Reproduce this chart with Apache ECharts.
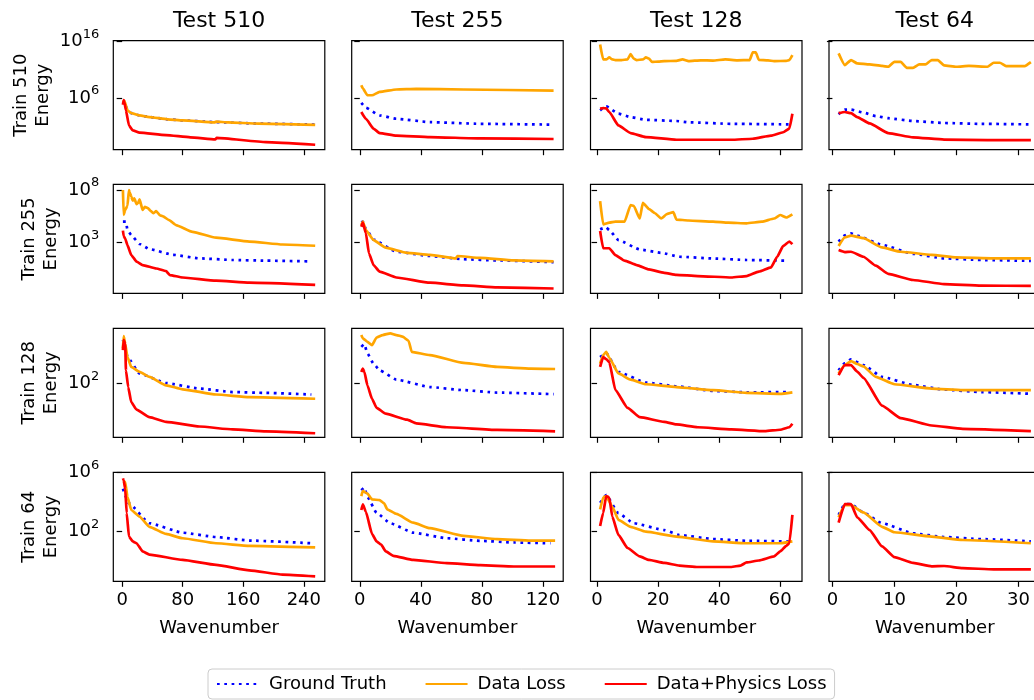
<!DOCTYPE html>
<html>
<head>
<meta charset="utf-8">
<script src="https://cdn.jsdelivr.net/npm/echarts@6/dist/echarts.min.js"></script>
<style>
html,body{margin:0;padding:0;background:#fff;}
#chart{width:1034px;height:700px;}
</style>
</head>
<body>
<div id="chart"></div>
<script>
// Energy spectra: rows = training resolution, columns = test resolution
const trainSizes = [510, 255, 128, 64];
const testSizes = [510, 255, 128, 64];
const seriesNames = ['Ground Truth', 'Data Loss', 'Data+Physics Loss'];

// x tick labels per column and y tick exponents per row
const xTickValues = [[0, 80, 160, 240], [0, 40, 80, 120], [0, 20, 40, 60], [0, 10, 20, 30]];
const xLimits = [[-11.7, 267.7], [-5.3, 133.3], [-2.15, 67.15], [-0.55, 33.55]];
const yTickExponents = [[6, 16], [3, 8], [2], [2, 6]];
const yLimitExponents = [[-3.2, 16.18], [-1.81, 8.54], [-2.05, 6.17], [-1.42, 6.02]];

// ---- Train 510 ----
const gt_510_510 = [[1,1e5],[3,2e5],[7,6.3e3],[12,2e3],[23,8e2],[36,4e2],[60,1.6e2],[80,1e2],[124,5e1],[180,2.8e1],[255,1.8e1]];
const dl_510_510 = [[1,2e5],[3,3.2e5],[7,6.3e3],[12,2e3],[23,8e2],[36,4e2],[60,1.6e2],[80,1e2],[122,4.5e1],[124,6.3e1],[140,4.5e1],[180,2.8e1],[255,1.6e1]];
const dp_510_510 = [[1,6.3e4],[2,4e5],[3,1.6e5],[5,6.3e3],[9,1.3e1],[14,1.7],[23,6.6e-1],[58,2.5e-1],[90,1e-1],[123,4.2e-2],[125,8e-2],[190,1.4e-2],[255,4.8e-3]];

const gt_510_255 = [[1,1.3e5],[4,1.9e4],[13,8e2],[24,2e2],[46,5e1],[79,2.5e1],[127,1.8e1]];
const dl_510_255 = [[1,1.9e8],[2,5e7],[5,3e6],[8,3e6],[13,1.2e7],[24,3.2e7],[37,4e7],[68,3.2e7],[127,2e7]];
const dp_510_255 = [[1,3.2e3],[4,2e2],[9,3.5],[13,5.6e-1],[24,2e-1],[46,1.1e-1],[79,6.3e-2],[127,5e-2]];

const gt_510_128 = [[1,6.3e3],[3,3.2e4],[7,1.6e3],[11,4e2],[16,1.3e2],[26,8e1],[30,4.6e1],[44,2.5e1],[63,2e1]];
const dl_510_128 = [[1,3.2e15],[2,7.2e12],[3,7e12],[4,1.6e13],[5,7e12],[6,5.4e12],[8,5.4e12],[10,7.2e12],[11,6.3e13],[12,1e13],[13,5.4e12],[15,7e12],[16,1.6e13],[17,1e13],[18,2.5e12],[20,3e12],[22,3.5e12],[26,4e12],[28,7e12],[30,3.5e12],[34,5e12],[38,4.5e12],[42,7e12],[46,5e12],[50,5.4e12],[51,1.3e14],[52,1.3e14],[53,6e12],[56,5e12],[58,3.5e12],[62,4e12],[63,5.5e12],[64,4e13]];
const dp_510_128 = [[1,1.3e4],[2,1.6e4],[3,1.4e4],[4,3.2e3],[7,1.3e1],[11,5.6e-1],[16,1.1e-1],[26,3.7e-2],[33,3.7e-2],[44,3.7e-2],[51,5.6e-2],[57,2e-1],[61,8e-1],[63,3.5],[64,1.6e3]];

const gt_510_64 = [[1,1.3e3],[2,8.5e3],[3,8.5e3],[5,2.5e3],[7,6e2],[9,2.5e2],[13,8e1],[18,3.5e1],[24,2.5e1],[32,2e1]];
const dl_510_64 = [[1,8.5e13],[2,7e11],[3,5.4e12],[4,1.4e12],[6,9e11],[8,5e11],[9,3.5e11],[10,2.7e12],[11,2.7e12],[12,2.3e11],[13,2.3e11],[14,9e11],[15,9e11],[16,5.4e12],[17,5.4e12],[18,6.3e11],[20,3.5e11],[22,5e11],[25,3.5e11],[26,1.8e12],[27,1.8e12],[28,4.6e11],[31,4.6e11],[32,2.3e12]];
const dp_510_64 = [[1,2e3],[2,3.2e3],[3,2e3],[4,4e2],[6,3e1],[9,5.6e-1],[13,1e-1],[18,4e-2],[25,3.2e-2],[32,3.2e-2]];

// ---- Train 255 ----
const gt_255_510 = [[1,1e5],[5,1e5],[7,1.6e4],[12,5.4e3],[23,7.6e2],[36,2.5e2],[67,7.2e1],[102,3.3e1],[146,2.3e1],[190,2e1],[250,1.7e1]];
const dl_255_510 = [[1,1e8],[2,4.3e5],[4,1.3e6],[7,3.2e6],[9,1e8],[10,6e7],[12,2.5e7],[14,1e7],[16,1.6e7],[19,4.7e6],[21,6e6],[23,1.3e7],[27,1.3e6],[30,2.5e6],[34,2e6],[38,1e6],[41,6.3e5],[45,1e6],[50,4e5],[54,3.2e5],[62,1.4e5],[71,4.8e4],[93,1.1e4],[124,3e3],[168,1.3e3],[212,6.8e2],[255,5.2e2]];
const dp_255_510 = [[1,1.4e4],[2,4.3e3],[4,2.5e3],[7,5.9e2],[12,6.8e1],[19,1.6e1],[27,7.6],[45,3.6],[58,2],[63,8.5e-1],[80,5e-1],[124,2.5e-1],[168,1.6e-1],[255,1e-1]];

const gt_255_255 = [[1,8.5e4],[2,1e5],[4,2e4],[9,2e3],[24,1.4e2],[46,5.5e1],[68,2.7e1],[90,2.1e1],[127,1.4e1]];
const dl_255_255 = [[1,4.8e4],[2,1e5],[4,1.6e4],[9,1.8e3],[17,3.4e2],[31,1.1e2],[46,7.2e1],[63,3.3e1],[64,5.5e1],[79,3.6e1],[101,2.1e1],[127,1.7e1]];
const dp_255_255 = [[1,3.3e4],[2,8e4],[4,8e3],[6,1e2],[9,7.6],[13,1.8],[24,5e-1],[46,1.6e-1],[68,8.9e-2],[90,5.8e-2],[127,4.5e-2]];

const gt_255_128 = [[1,1.9e4],[3,2.9e4],[4,1.6e4],[7,1.8e3],[14,2.3e2],[21,1.1e2],[27,4.7e1],[38,3.2e1],[49,2.3e1],[62,2e1]];
const dl_255_128 = [[1,9e6],[2,5.6e4],[4,8e4],[6,1e5],[9,1e5],[11,3.8e6],[12,3.2e6],[14,2e5],[15,6.3e6],[17,1.6e6],[19,6.3e5],[21,2e5],[23,5.6e5],[25,8e5],[26,1.6e5],[30,1.3e5],[38,1e5],[43,8e4],[49,7e4],[54,1e5],[58,2e5],[60,4.3e5],[62,2.5e5],[64,5e5]];
const dp_255_128 = [[1,1.3e4],[2,3e2],[4,3e2],[6,6.8e1],[9,2e1],[13,7.6],[17,2.9],[22,1.4],[26,8.9e-1],[33,6.9e-1],[44,5e-1],[49,6.9e-1],[53,1.8],[57,4.6],[59,4.7e1],[61,5e2],[63,1.3e3],[64,7.4e2]];

const gt_255_64 = [[1,1.3e3],[2,5e3],[3,7.8e3],[4,4.7e3],[8,6.3e2],[13,8.9e1],[18,3.3e1],[24,2.3e1],[32,1.9e1]];
const dl_255_64 = [[1,5e2],[2,3.2e3],[3,4.7e3],[5,2.7e3],[8,3.6e2],[11,1.4e2],[16,7.2e1],[20,4.1e1],[26,3.3e1],[32,3.3e1]];
const dp_255_64 = [[1,2e2],[2,1.3e2],[3,1.4e2],[5,4.7e1],[7,6.6],[9,1.1],[13,2.9e-1],[18,1.2e-1],[24,8.5e-2],[32,7.9e-2]];

// ---- Train 128 ----
const gt_128_510 = [[1,2e5],[3,1e5],[7,1e4],[23,5.8e2],[58,1.1e2],[102,4.2e1],[146,2.3e1],[190,2e1],[250,1.5e1]];
const dl_128_510 = [[1,4.5e4],[2,3.8e5],[4,1e5],[7,1e4],[12,1.8e3],[23,7.6e2],[36,3.2e2],[58,7.4e1],[80,3.7e1],[124,1.5e1],[168,9.5],[255,7.2]];
const dp_128_510 = [[1,3.3e4],[2,2e5],[4,1e5],[5,1e3],[8,5.5e1],[12,4],[19,1.1],[36,3e-1],[58,1.3e-1],[102,5.8e-2],[146,3.5e-2],[190,2.5e-2],[255,1.8e-2]];

const gt_128_255 = [[1,5.9e4],[3,9.3e4],[5,1.9e4],[9,3.2e3],[13,1e3],[24,2e2],[46,5.5e1],[68,3.2e1],[90,2.1e1],[127,1.6e1]];
const dl_128_255 = [[1,4.6e5],[2,2.6e5],[5,1.4e5],[8,8e4],[11,3e5],[15,4.6e5],[20,6.2e5],[24,4.6e5],[28,3.5e5],[32,1.7e5],[34,2.5e4],[46,1.4e4],[68,3.6e3],[90,1.8e3],[112,1.35e3],[128,1.26e3]];
const dp_128_255 = [[1,7.6e2],[2,1.35e3],[3,7.6e2],[5,7.4e1],[8,7.2],[11,1.5],[17,5.4e-1],[31,1.9e-1],[37,1e-1],[57,5.1e-2],[90,3.2e-2],[128,2.5e-2]];

const gt_128_128 = [[1,1e4],[3,2e4],[7,7.6e2],[16,1.2e2],[26,6.3e1],[38,2.8e1],[49,2.2e1],[63,2.3e1]];
const dl_128_128 = [[1,3.2e3],[2,1.4e4],[3,2.5e4],[4,8.9e3],[7,5.8e2],[11,2e2],[16,8.9e1],[26,5.5e1],[38,3.2e1],[49,2e1],[60,1.7e1],[64,2.2e1]];
const dp_128_128 = [[1,1.8e3],[2,1e4],[3,7e3],[4,4.2e3],[6,3.2e1],[10,1.5],[14,3e-1],[22,1.3e-1],[26,8.3e-2],[33,5.1e-2],[44,3.5e-2],[55,2.6e-2],[60,3.3e-2],[63,5.1e-2],[64,9.3e-2]];

const gt_128_64 = [[1,1e3],[2,3.5e3],[3,6.6e3],[5,2.5e3],[8,3.2e2],[13,7.9e1],[18,3.5e1],[24,2.3e1],[32,1.7e1]];
const dl_128_64 = [[1,5.8e2],[2,2.5e3],[3,5e3],[4,3e3],[5,2e3],[7,3.2e2],[10,8.9e1],[16,4.2e1],[21,3.2e1],[32,3.2e1]];
const dp_128_64 = [[1,4.3e2],[2,2.5e3],[3,2.5e3],[4,8e2],[5,2.7e2],[8,2.2],[11,2.5e-1],[16,6.9e-2],[21,3.9e-2],[32,2.6e-2]];

// ---- Train 64 ----
const gt_64_510 = [[1,7.9e4],[9,7.9e3],[36,3.5e2],[80,7.9e1],[124,4e1],[168,2.3e1],[250,1.5e1]];
const dl_64_510 = [[1,2.3e5],[4,2.3e5],[7,2.2e4],[12,2.8e3],[23,1e3],[36,2e2],[58,6.5e1],[80,3.3e1],[124,1.5e1],[168,1e1],[255,7.8]];
const dp_64_510 = [[1,4e5],[2,3e5],[4,7.9e4],[6,1.7e3],[9,4.3e1],[14,2e1],[19,1.5e1],[27,4.2],[36,2.5],[80,1.1],[124,5e-1],[168,2.1e-1],[212,1.1e-1],[255,8.3e-2]];

const gt_64_255 = [[1,6.3e4],[3,9.5e4],[5,2.2e4],[11,1.8e3],[20,3.5e2],[35,7.9e1],[57,3.3e1],[79,2.2e1],[101,1.7e1],[125,1.5e1]];
const dl_64_255 = [[1,2.5e4],[2,5.6e4],[5,3.7e4],[8,1.5e4],[13,1.3e4],[16,7.9e3],[18,3.1e3],[24,1.5e3],[35,3.8e2],[46,1.6e2],[68,4.8e1],[90,2.9e1],[112,2.3e1],[128,2.3e1]];
const dp_64_255 = [[1,2.8e3],[2,6.8e3],[4,2.1e3],[8,6.6e1],[11,2e1],[14,1.2e1],[17,4.2],[22,2.1],[35,1.1],[57,6.6e-1],[79,4.8e-1],[101,3.9e-1],[128,3.9e-1]];

const gt_64_128 = [[1,8.7e3],[3,2.9e4],[7,1.7e3],[12,3.5e2],[22,1.2e2],[27,5.5e1],[38,2.9e1],[49,2.2e1],[63,2e1]];
const dl_64_128 = [[1,3.1e3],[2,2e4],[3,2.5e4],[5,4.6e3],[7,5.9e2],[11,2e2],[16,9.3e1],[26,4.3e1],[38,2e1],[49,1.5e1],[60,1.5e1],[64,2e1]];
const dp_64_128 = [[1,2.3e2],[2,1.8e3],[3,2.5e4],[4,2e4],[5,9.8e2],[7,5.6e1],[10,7.1],[14,1.9],[17,1.1],[22,6.8e-1],[27,4.5e-1],[33,3.6e-1],[44,3.6e-1],[47,4.5e-1],[49,7.4e-1],[53,1],[58,1.9],[60,4.2],[62,1e1],[63,1.5e1],[64,1.3e3]];

const gt_64_64 = [[1,1.3e3],[2,7e3],[3,7e3],[5,1.9e3],[8,3.5e2],[13,7.2e1],[18,4e1],[24,2.9e1],[32,2e1]];
const dl_64_64 = [[1,8.9e2],[2,6e3],[3,6e3],[5,1.9e3],[8,2e2],[10,8.5e1],[16,4.3e1],[21,2.5e1],[32,1.5e1]];
const dp_64_64 = [[1,3.8e2],[2,7e3],[3,7e3],[4,8.9e2],[6,1.2e2],[8,9.1],[10,1.7],[13,6.8e-1],[16,4e-1],[18,4.2e-1],[21,3e-1],[26,2.5e-1],[32,2.5e-1]];

// panel table [row][col] -> [ground truth, data loss, data+physics loss]
const panels = [
  [[gt_510_510, dl_510_510, dp_510_510], [gt_510_255, dl_510_255, dp_510_255], [gt_510_128, dl_510_128, dp_510_128], [gt_510_64, dl_510_64, dp_510_64]],
  [[gt_255_510, dl_255_510, dp_255_510], [gt_255_255, dl_255_255, dp_255_255], [gt_255_128, dl_255_128, dp_255_128], [gt_255_64, dl_255_64, dp_255_64]],
  [[gt_128_510, dl_128_510, dp_128_510], [gt_128_255, dl_128_255, dp_128_255], [gt_128_128, dl_128_128, dp_128_128], [gt_128_64, dl_128_64, dp_128_64]],
  [[gt_64_510, dl_64_510, dp_64_510], [gt_64_255, dl_64_255, dp_64_255], [gt_64_128, dl_64_128, dp_64_128], [gt_64_64, dl_64_64, dp_64_64]]
];

// layout (pixels)
const FONT = 'DejaVu Sans';
const gridLeft = [113.3, 351.7, 590.5, 829];
const gridTop = [40.7, 184.4, 328.3, 472.3];
const gridW = 211.5, gridH = 109;
const lineColors = ['#0000ff', '#ffa500', '#ff0000'];

const grids = [], xAxes = [], yAxes = [], series = [];
for (let r = 0; r < 4; r++) {
  for (let c = 0; c < 4; c++) {
    const idx = r * 4 + c;
    grids.push({
      left: gridLeft[c], top: gridTop[r], width: gridW, height: gridH,
      show: true, borderColor: '#000', borderWidth: 1.2, backgroundColor: 'transparent',
      outerBoundsMode: 'none', containLabel: false
    });
    xAxes.push({
      type: 'value', gridIndex: idx,
      min: xLimits[c][0], max: xLimits[c][1],
      axisLine: { show: false },
      splitLine: { show: false },
      axisTick: { show: true, inside: false, length: 5.5, lineStyle: { color: '#000', width: 1.2 }, customValues: xTickValues[c] },
      axisLabel: { show: r === 3, customValues: xTickValues[c], margin: 10, color: '#000', fontSize: 18, fontFamily: FONT },
      name: r === 3 ? 'Wavenumber' : '',
      nameLocation: 'middle', nameGap: 38,
      nameTextStyle: { color: '#000', fontSize: 18, fontFamily: FONT }
    });
    const yTicks = yTickExponents[r].map(e => Math.pow(10, e));
    yAxes.push({
      type: 'log', logBase: 10, gridIndex: idx,
      min: Math.pow(10, yLimitExponents[r][0]), max: Math.pow(10, yLimitExponents[r][1]),
      axisLine: { show: false },
      splitLine: { show: false },
      minorTick: { show: false },
      axisTick: { show: true, inside: false, length: 5.5, lineStyle: { color: '#000', width: 1.2 }, customValues: yTicks },
      axisLabel: {
        show: c === 0, customValues: yTicks, margin: 14,
        formatter: v => '{b|10}{s|' + Math.round(Math.log10(v)) + '}',
        rich: {
          b: { fontSize: 18, fontFamily: FONT, color: '#000', lineHeight: 26 },
          s: { fontSize: 13, fontFamily: FONT, color: '#000', lineHeight: 12, padding: [0, 0, 14, 0] }
        }
      }
    });
    const trio = panels[r][c];
    for (let s = 0; s < 3; s++) {
      series.push({
        name: seriesNames[s], type: 'line', xAxisIndex: idx, yAxisIndex: idx,
        data: trio[s], showSymbol: false, symbol: 'none',
        smooth: 0.15, smoothMonotone: 'x', clip: true,
        lineStyle: s === 0
          ? { color: lineColors[s], width: 2.7, type: [2.7, 4.6], cap: 'butt' }
          : { color: lineColors[s], width: 2.7 },
        itemStyle: { color: lineColors[s] },
        z: 2 + s
      });
    }
  }
}

// column titles and row labels
const graphics = [];
testSizes.forEach((t, c) => {
  graphics.push({
    type: 'text', x: gridLeft[c] + gridW / 2, y: 21,
    style: { text: 'Test ' + t, font: '22px "' + FONT + '"', fill: '#000', align: 'center', verticalAlign: 'middle', textAlign: 'center', textVerticalAlign: 'middle' }
  });
});
const labelX = [[21, 43], [29, 51], [29, 51], [29, 51]];
trainSizes.forEach((t, r) => {
  const cy = gridTop[r] + gridH / 2;
  ['Train ' + t, 'Energy'].forEach((txt, k) => {
    graphics.push({
      type: 'text', x: labelX[r][k], y: cy, rotation: Math.PI / 2,
      style: { text: txt, font: '18px "' + FONT + '"', fill: '#000', align: 'center', verticalAlign: 'middle', textAlign: 'center', textVerticalAlign: 'middle' }
    });
  });
});

const chart = echarts.init(document.getElementById('chart'), null, { renderer: 'canvas' });
chart.setOption({
  backgroundColor: '#fff',
  animation: false,
  grid: grids,
  xAxis: xAxes,
  yAxis: yAxes,
  series: series,
  graphic: graphics,
  legend: {
    data: seriesNames,
    left: 208, top: 669,
    itemWidth: 42, itemHeight: 12, itemGap: 38,
    itemStyle: { opacity: 0 },
    textStyle: { color: '#000', fontSize: 18, fontFamily: FONT, padding: [0, 0, 0, 5] },
    borderColor: '#cccccc', borderWidth: 1, borderRadius: 4,
    padding: [6, 8, 6, 8],
    backgroundColor: 'rgba(255,255,255,0.8)'
  }
});
</script>
</body>
</html>
